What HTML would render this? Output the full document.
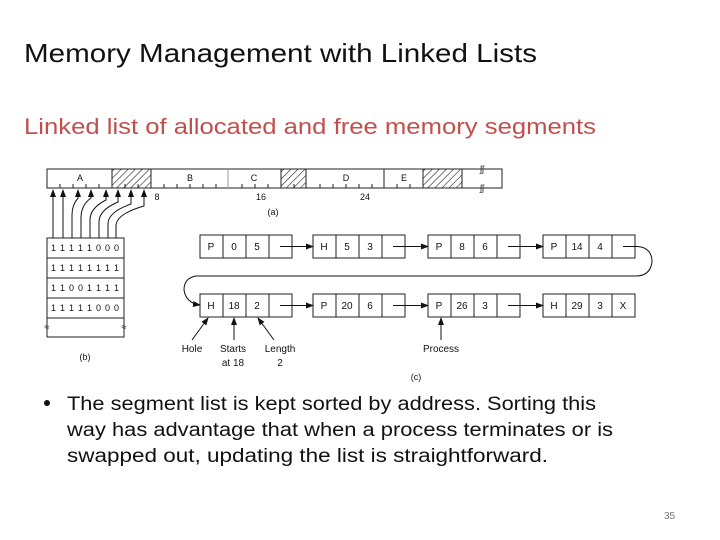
<!DOCTYPE html>
<html><head><meta charset="utf-8"><style>
html,body{margin:0;padding:0;background:#fff;width:720px;height:540px;overflow:hidden}
svg{display:block}
</style></head><body>
<svg width="720" height="540" viewBox="0 0 720 540" xmlns="http://www.w3.org/2000/svg" font-family="Liberation Sans, sans-serif">
<defs>
<pattern id="h" width="5" height="5" patternUnits="userSpaceOnUse" patternTransform="rotate(45)"><rect width="5" height="5" fill="#fff"/><line x1="0" y1="0" x2="0" y2="5" stroke="#222" stroke-width="1.2"/></pattern>
<marker id="a" markerWidth="8" markerHeight="6" refX="7" refY="3" orient="auto" markerUnits="userSpaceOnUse"><path d="M0,0 L8,3 L0,6 z" fill="#111"/></marker>
</defs>
<text x="24" y="62" font-size="26" fill="#111" textLength="513" lengthAdjust="spacingAndGlyphs">Memory Management with Linked Lists</text>
<text x="24" y="134" font-size="22" fill="#c0504d" textLength="572" lengthAdjust="spacingAndGlyphs">Linked list of allocated and free memory segments</text>

<g stroke="#222" stroke-width="1" fill="none">
<rect x="47" y="169" width="455" height="19" fill="#fff"/>
<rect x="112" y="169" width="39" height="19" fill="url(#h)"/>
<rect x="281" y="169" width="25" height="19" fill="url(#h)"/>
<rect x="423" y="169" width="39" height="19" fill="url(#h)"/>
<line x1="228" y1="169" x2="228" y2="188" stroke="#999"/>
<line x1="384" y1="169" x2="384" y2="188"/>
<path d="M60,188v-4M73,188v-4M86,188v-4M99,188v-4M125,188v-4M138,188v-4M164,188v-4M177,188v-4M190,188v-4M203,188v-4M216,188v-4M242,188v-4M255,188v-4M268,188v-4M294,188v-4M320,188v-4M333,188v-4M346,188v-4M359,188v-4M372,188v-4M397,188v-4M410,188v-4"/>
</g>
<text x="480" y="172" font-size="9" fill="#333">ʃʃ</text>
<text x="480" y="191" font-size="9" fill="#333">ʃʃ</text>
<g font-size="9" fill="#111" text-anchor="middle">
<text x="80" y="181">A</text><text x="190" y="181">B</text><text x="254" y="181">C</text><text x="346" y="181">D</text><text x="404" y="181">E</text>
<text x="157" y="200">8</text><text x="261" y="200">16</text><text x="365" y="200">24</text>
<text x="273" y="215">(a)</text>
<text x="85" y="360">(b)</text><text x="416" y="380">(c)</text>
</g>
<g stroke="#111" stroke-width="1" fill="none" marker-end="url(#a)">
<path d="M53,238V190"/><path d="M63,238V190"/>
<path d="M72,238V215Q72,205 78,198V190"/>
<path d="M81,238V218Q81,205 91,198V190"/>
<path d="M90,238V220Q90,208 106,200V190"/>
<path d="M99,238V222Q99,210 118,202V190"/>
<path d="M108,238V224Q108,212 131,204V190"/>
<path d="M116,238V226Q116,214 144,206V190"/>
</g>
<g stroke="#222" fill="none">
<rect x="47" y="238" width="77" height="99"/>
<path d="M47,258h77M47,278h77M47,298h77M47,318h77"/>
</g>
<g font-size="9" fill="#111" text-anchor="middle">
<text x="85" y="251" textLength="68" lengthAdjust="spacing">1 1 1 1 1 0 0 0</text>
<text x="85" y="271" textLength="68" lengthAdjust="spacing">1 1 1 1 1 1 1 1</text>
<text x="85" y="291" textLength="68" lengthAdjust="spacing">1 1 0 0 1 1 1 1</text>
<text x="85" y="311" textLength="68" lengthAdjust="spacing">1 1 1 1 1 0 0 0</text>
<text x="47" y="330">≈</text><text x="124" y="330">≈</text>
</g>

<g stroke="#222" fill="#fff">
<rect x="200" y="235" width="92" height="23"/><path d="M223,235v23M246,235v23M269,235v23"/>
<rect x="313" y="235" width="92" height="23"/><path d="M336,235v23M359,235v23M382,235v23"/>
<rect x="428" y="235" width="92" height="23"/><path d="M451,235v23M474,235v23M497,235v23"/>
<rect x="543" y="235" width="92" height="23"/><path d="M566,235v23M589,235v23M612,235v23"/>
<rect x="200" y="294" width="92" height="23"/><path d="M223,294v23M246,294v23M269,294v23"/>
<rect x="313" y="294" width="92" height="23"/><path d="M336,294v23M359,294v23M382,294v23"/>
<rect x="428" y="294" width="92" height="23"/><path d="M451,294v23M474,294v23M497,294v23"/>
<rect x="543" y="294" width="92" height="23"/><path d="M566,294v23M589,294v23M612,294v23"/>
</g>
<g font-size="10" fill="#111" text-anchor="middle">
<text x="211" y="250">P</text><text x="234" y="250">0</text><text x="257" y="250">5</text>
<text x="324" y="250">H</text><text x="347" y="250">5</text><text x="370" y="250">3</text>
<text x="439" y="250">P</text><text x="462" y="250">8</text><text x="485" y="250">6</text>
<text x="554" y="250">P</text><text x="577" y="250">14</text><text x="600" y="250">4</text>
<text x="211" y="309">H</text><text x="234" y="309">18</text><text x="257" y="309">2</text>
<text x="324" y="309">P</text><text x="347" y="309">20</text><text x="370" y="309">6</text>
<text x="439" y="309">P</text><text x="462" y="309">26</text><text x="485" y="309">3</text>
<text x="554" y="309">H</text><text x="577" y="309">29</text><text x="600" y="309">3</text><text x="623" y="309">X</text>
</g>
<g stroke="#111" stroke-width="1" fill="none" marker-end="url(#a)">
<path d="M280,246.5H313"/><path d="M393,246.5H428"/><path d="M508,246.5H543"/>
<path d="M280,305.5H313"/><path d="M393,305.5H428"/><path d="M508,305.5H543"/>
<path d="M623,246.5H638Q652,248 652,262Q650,276 636,276H196Q184,278 184,290Q186,303 200,305"/>
<path d="M192,340L208,318"/><path d="M234,340V318"/><path d="M274,340L258,318"/><path d="M441,340V318"/>
</g>
<g font-size="10" fill="#111" text-anchor="middle">
<text x="192" y="352">Hole</text><text x="233" y="352">Starts</text><text x="233" y="366">at 18</text>
<text x="280" y="352">Length</text><text x="280" y="366">2</text><text x="441" y="352">Process</text>
</g>

<circle cx="47" cy="403" r="3" fill="#111"/>
<g font-size="19" fill="#111">
<text x="67" y="410" textLength="529" lengthAdjust="spacingAndGlyphs">The segment list is kept sorted by address. Sorting this</text>
<text x="67" y="436" textLength="546" lengthAdjust="spacingAndGlyphs">way has advantage that when a process terminates or is</text>
<text x="67" y="462" textLength="481" lengthAdjust="spacingAndGlyphs">swapped out, updating the list is straightforward.</text>
</g>
<text x="664" y="519" font-size="10" fill="#777">35</text>
</svg>
</body></html>
